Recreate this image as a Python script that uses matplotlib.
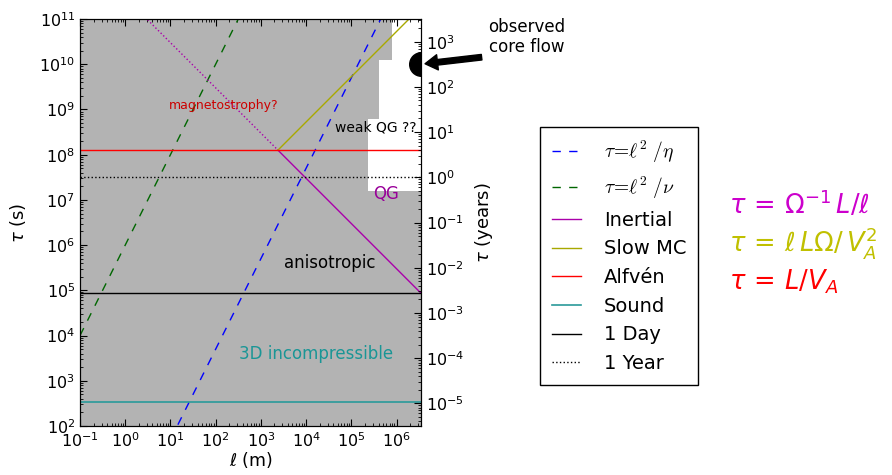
# Characteristic time scales in the Earth's core vs length scale
import matplotlib
matplotlib.use('Agg')
import matplotlib.pyplot as plt
from matplotlib.font_manager import FontProperties
from matplotlib.ticker import LogLocator, NullFormatter

# axis limits
ell_lim = [0.1, 3.48e6]       # m
tau_lim = [1e2, 1e11]         # s
year = 3.156e7                # s

# line end points
ell_eta = [10.0, 1e6]
tau_eta = [50.0, 5e11]
ell_nu = [0.1, 1e3]
tau_nu = [1e4, 1e12]
ell_inertial = [2386.0, 3.48e6]
tau_inertial = [1.26e8, 8.64e4]
ell_magstro = [0.1, 2386.0]
tau_magstro = [3.0e12, 1.26e8]
ell_slowmc = [2386.0, 3.48e6]
tau_slowmc = [1.26e8, 1.84e11]
tau_alfven = 1.26e8
tau_sound = 348.0
tau_day = 8.64e4
tau_year = year

# grey regime regions
ell_band = [0.1, 3.48e6]
tau_band = [1e2, 1.6e7]
tau_steps = [1.6e7, 6.2e8, 1.26e10, 1e11]
ell_edge = [2.3e5, 4.2e5, 8.1e5, 8.1e5]

# observed core flow
ell_obs = 3.48e6
tau_obs = 1e10

fig = plt.figure(figsize=(8.92, 4.75), dpi=100)
ax = fig.add_axes([80/892, 1-426/475, (421-80)/892, (426-19)/475])
ax.set_xscale('log')
ax.set_yscale('log')

ax.fill_between(ell_band, tau_band[0], tau_band[1], color='0.7', lw=0, zorder=0)
ax.fill_betweenx(tau_steps, ell_lim[0], ell_edge, step='post', color='0.7', lw=0, zorder=0)

ax.plot(ell_eta, tau_eta, 'b', dashes=(6, 6), lw=1, label=r'$\tau\!=\!\ell^2\ /\eta$')
ax.plot(ell_nu, tau_nu, color='#006600', dashes=(6, 6), lw=1, label=r'$\tau\!=\!\ell^2\ /\nu$')
ax.plot(ell_inertial, tau_inertial, color='#aa00aa', lw=1, label='Inertial')
ax.plot(ell_magstro, tau_magstro, color='#aa00aa', ls=':', lw=1)
ax.plot(ell_slowmc, tau_slowmc, color='#a8a800', lw=1, label='Slow MC')
ax.axhline(tau_alfven, color='r', lw=1, label=u'Alfvén')
ax.axhline(tau_sound, color='#2a9a9a', lw=1.2, label='Sound')
ax.axhline(tau_day, color='k', lw=1, label='1 Day')
ax.axhline(tau_year, color='k', ls=':', lw=1, label='1 Year')

ax.plot(ell_obs, tau_obs, 'ko', markersize=17, clip_on=True, zorder=5)

ax.text(150, 1.2e9, 'magnetostrophy?', color='#cc0000', fontsize=9, ha='center', va='center')
ax.text(3.4e5, 3.9e8, 'weak QG ??', color='k', fontsize=10, ha='center', va='center')
ax.text(6e5, 1.35e7, 'QG', color='#990099', fontsize=12, ha='center', va='center')
ax.text(3.3e4, 4e5, 'anisotropic', color='k', fontsize=12, ha='center', va='center')
ax.text(1.66e4, 4e3, '3D incompressible', color='#1a9696', fontsize=12, ha='center', va='center')

ax.set_xlim(ell_lim)
ax.set_ylim(tau_lim)
for a in (ax.xaxis, ax.yaxis):
    a.set_major_locator(LogLocator(base=10, numticks=20))
    a.set_minor_locator(LogLocator(base=10, subs=range(2, 10), numticks=20))
    a.set_minor_formatter(NullFormatter())
ax.set_xlabel(r'$\ell$ (m)', fontsize=12.5, labelpad=0)
ax.set_ylabel(r'$\tau$ (s)', fontsize=13, labelpad=8)
ax.tick_params(which='both', direction='in', top=True, right=False, labelsize=11.5)
ax.tick_params(which='major', length=5)
ax.tick_params(which='minor', length=2.5)

ax2 = ax.twinx()
ax2.set_yscale('log')
ax2.set_ylim(tau_lim[0]/year, tau_lim[1]/year)
ax2.yaxis.set_major_locator(LogLocator(base=10, numticks=20))
ax2.yaxis.set_minor_locator(LogLocator(base=10, subs=range(2, 10), numticks=20))
ax2.yaxis.set_minor_formatter(NullFormatter())
ax2.set_ylabel(r'$\tau$ (years)', fontsize=13, labelpad=6)
ax2.tick_params(which='both', direction='in', labelsize=11.5)
ax2.tick_params(which='major', length=5)
ax2.tick_params(which='minor', length=2.5)

ax.annotate('observed\ncore flow', xy=(ell_obs, tau_obs), xycoords='data',
            xytext=(527/892, 1-37/475), textcoords='figure fraction',
            ha='center', va='center', fontsize=12,
            arrowprops=dict(facecolor='black', edgecolor='black', width=4,
                            headwidth=11, headlength=9, shrink=0.06),
            annotation_clip=False)

leg = fig.legend(*ax.get_legend_handles_labels(), loc='upper left',
                 bbox_to_anchor=(540/892, 1-127/475), borderaxespad=0,
                 prop=FontProperties(size=14, math_fontfamily='cm'),
                 fancybox=False, framealpha=1, edgecolor='k',
                 handlelength=1.5, handletextpad=1.2, labelspacing=0.5, borderpad=0.6)
leg.get_frame().set_linewidth(1)

fig.text(729/892, 1-205/475, r'$\tau\,=\,\Omega^{-1}\, L/\ell$', color='#cc00cc', fontsize=18.5, va='center')
fig.text(729/892, 1-243/475, r'$\tau\,=\,\ell\, L\Omega/\,V_A^2$', color='#c0c000', fontsize=18.5, va='center')
fig.text(729/892, 1-282/475, r'$\tau\,=\,L/V_A$', color='#ff0000', fontsize=18.5, va='center')

fig.savefig('out.png', dpi=100)
